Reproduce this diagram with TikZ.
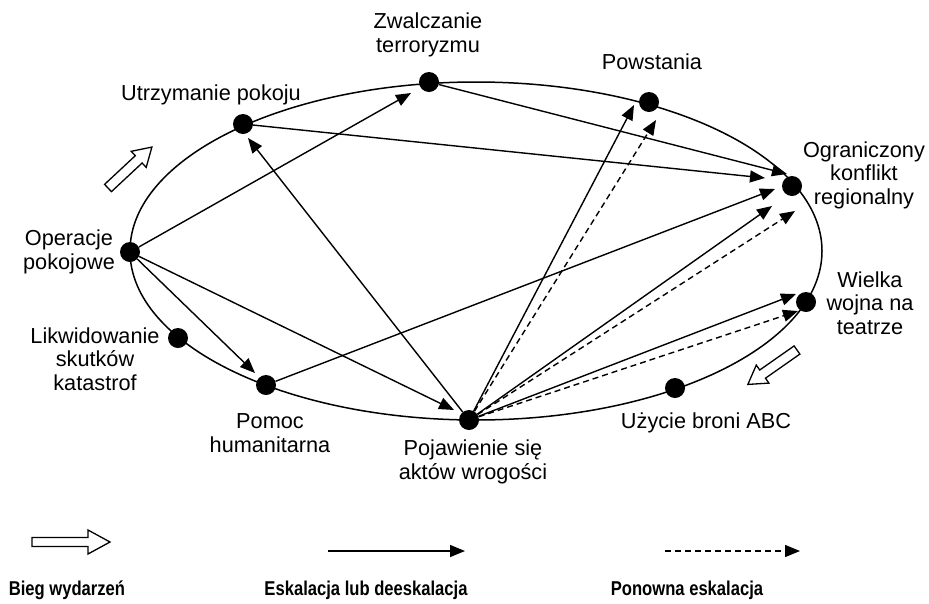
\documentclass[tikz,border=0pt]{standalone}
\usepackage{fontspec}
\setmainfont{Liberation Sans}
\newfontfamily\legendfont[FakeStretch=0.83]{Liberation Sans}
\usetikzlibrary{arrows.meta,calc}

\tikzset{
  dot/.style={circle, fill=black, inner sep=0pt, minimum size=20pt},
  lbl/.style={align=center, inner sep=0pt, font=\fontsize{21.7}{23.5}\selectfont},
  legend/.style={inner sep=0pt, font=\legendfont\bfseries\fontsize{20}{24}\selectfont},
  esc/.style={line width=1.4pt, -{Triangle[length=15pt,width=12pt]}},
  reesc/.style={esc, dash pattern=on 6pt off 4pt},
  pics/flow/.style={code={
    \draw[line width=1.3pt, line join=miter, fill=white]
      (0,-5) -- (42,-5) -- (42,-11) -- (60,0) -- (42,11) -- (42,5) -- (0,5) -- cycle;
  }}
}

\begin{document}
\begin{tikzpicture}[x=1pt, y=-1pt]
\useasboundingbox (0,0) rectangle (929,603);

% cycle of events
\draw[line width=1.5pt] (476,251) ellipse [x radius=346, y radius=169];

% events on the cycle
\node[dot] (op)  at (130,252) {};
\node[dot] (ut)  at (243,124) {};
\node[dot] (zw)  at (429,82)  {};
\node[dot] (pow) at (649,102) {};
\node[dot] (ogr) at (792,186) {};
\node[dot] (wie) at (806,302) {};
\node[dot] (uzy) at (675,388) {};
\node[dot] (poj) at (469,420) {};
\node[dot] (pom) at (266,385) {};
\node[dot] (lik) at (178,338) {};

% labels
\node[lbl] (tzw)  at (428,35)  {Zwalczanie\\terroryzmu};
\node[lbl] (tpow) at (652,62)  {Powstania};
\node[lbl] (tut)  at (211,95)  {Utrzymanie pokoju};
\node[lbl] (togr) at (864,175) {Ograniczony\\konflikt\\regionalny};
\node[lbl] (top)  at (69,252)  {Operacje\\pokojowe};
\node[lbl] (twie) at (870,303) {Wielka\\wojna na\\teatrze};
\node[lbl] (tlik) at (95,359)  {Likwidowanie\\skutków\\katastrof};
\node[lbl] (tpom) at (270,433) {Pomoc\\humanitarna};
\node[lbl] (tpoj) at (473,462) {Pojawienie się\\aktów wrogości};
\node[lbl] (tuzy) at (706,423) {Użycie broni ABC};

% direction of the course of events
\pic[rotate=43]  at (108,188) {flow};
\pic[rotate=215] at (797,350) {flow};

% escalation / de-escalation
\draw[esc] (op)  -- ($(zw)+(-18,11)$);
\draw[esc] (op)  -- ($(pom)+(-11,-12)$);
\draw[esc] (op)  -- ($(poj)+(-15,-10)$);
\draw[esc] (ut)  -- ($(ogr)+(-27,-8)$);
\draw[esc] (zw)  -- ($(ogr)+(-5,-12)$);
\draw[esc] (poj) -- ($(ut)+(5,14)$);
\draw[esc] (pom) -- ($(ogr)+(-17,3)$);
\draw[esc] (poj) -- ($(pow)+(-15,3)$);
\draw[esc] (poj) -- ($(ogr)+(-20,20)$);
\draw[esc] (poj) -- ($(wie)+(-10,-8)$);

% renewed escalation
\draw[reesc] (poj) -- ($(pow)+(7,18)$);
\draw[reesc] (poj) -- ($(ogr)+(3,25)$);
\draw[reesc] (poj) -- ($(wie)+(-8,9)$);

% legend
\draw[line width=1.3pt, line join=miter, fill=white]
  (32,537.5) -- (88,537.5) -- (88,530) -- (110,542) -- (88,554) -- (88,546.5) -- (32,546.5) -- cycle;
\coordinate (la) at (328,551);
\coordinate (lb) at (465,551);
\coordinate (lc) at (665,551);
\coordinate (ld) at (800,551);
\draw[esc] (la) -- (lb);
\draw[reesc] (lc) -- (ld);
\node[legend] (lg1) at (67,590)  {Bieg wydarzeń};
\node[legend] (lg2) at (366,590) {Eskalacja lub deeskalacja};
\node[legend] (lg3) at (687,590) {Ponowna eskalacja};
\end{tikzpicture}
\end{document}
